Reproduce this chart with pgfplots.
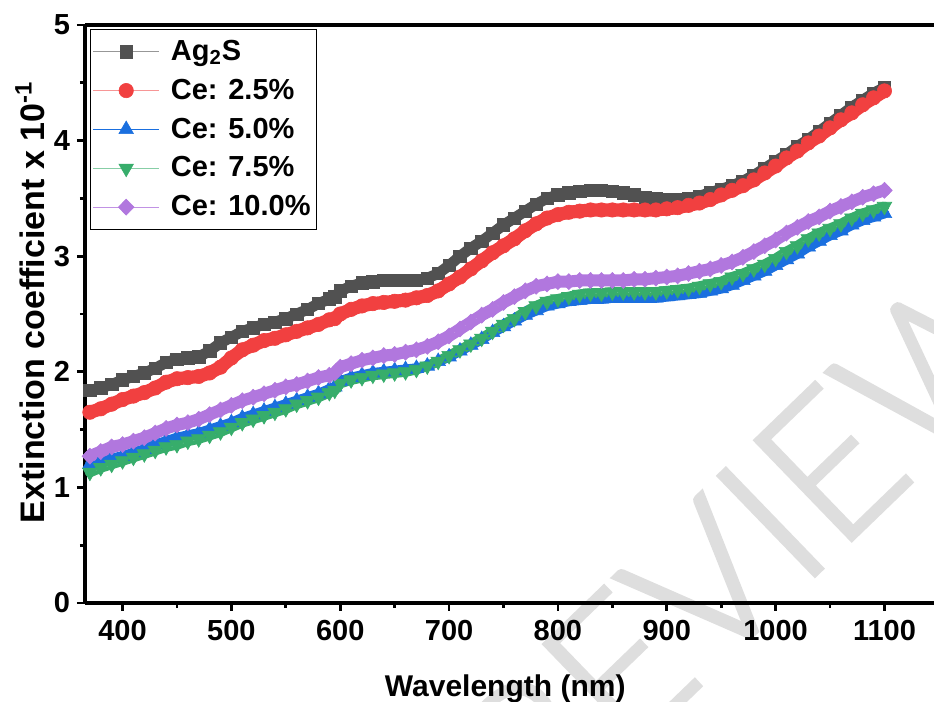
\documentclass[border=0pt]{standalone}
\usepackage{fontspec}
\setmainfont{Liberation Sans}
\IfFontExistsTF{Lato Light}{\newfontfamily\wmfont{Lato Light}[FakeBold=2]}{\newfontfamily\wmfont{Liberation Sans}}
\usepackage{pgfplots}
\usepackage{pgfplotstable}
\pgfplotsset{compat=1.18}

\definecolor{cblack}{HTML}{515151}
\definecolor{cred}{HTML}{F14040}
\definecolor{cblue}{HTML}{1A6FDF}
\definecolor{cgreen}{HTML}{37AD6B}
\definecolor{cpurple}{HTML}{B177DE}

% wavelength (nm) and extinction coefficient (x 10^-1) of each film
\pgfplotstableread{
x     ag    c25   c50   c75   c100
370   1.84  1.65  1.20  1.13  1.27
380   1.86  1.68  1.23  1.17  1.31
390   1.89  1.72  1.25  1.20  1.35
400   1.93  1.76  1.27  1.23  1.37
410   1.96  1.79  1.30  1.26  1.40
420   1.99  1.82  1.33  1.29  1.43
430   2.03  1.86  1.37  1.32  1.47
440   2.08  1.91  1.40  1.35  1.51
450   2.11  1.94  1.43  1.37  1.54
460   2.12  1.95  1.45  1.40  1.56
470   2.13  1.96  1.47  1.42  1.59
480   2.18  1.99  1.50  1.45  1.63
490   2.25  2.04  1.53  1.48  1.67
500   2.30  2.12  1.56  1.52  1.71
510   2.35  2.19  1.60  1.56  1.75
520   2.38  2.23  1.63  1.59  1.78
530   2.41  2.27  1.66  1.62  1.81
540   2.43  2.29  1.69  1.65  1.84
550   2.46  2.32  1.72  1.68  1.87
560   2.50  2.35  1.75  1.72  1.89
570   2.54  2.38  1.78  1.75  1.92
580   2.59  2.41  1.81  1.78  1.95
590   2.63  2.45  1.85  1.82  1.97
595   2.65  2.46  1.87  1.84  1.99
600   2.70  2.50  1.92  1.90  2.04
610   2.74  2.54  1.95  1.93  2.07
620   2.77  2.57  1.97  1.95  2.10
630   2.78  2.59  1.99  1.97  2.12
640   2.79  2.60  2.00  1.98  2.14
650   2.79  2.61  2.01  1.99  2.15
660   2.79  2.62  2.02  2.00  2.17
670   2.79  2.64  2.03  2.02  2.19
680   2.81  2.66  2.05  2.05  2.22
690   2.85  2.70  2.09  2.09  2.26
700   2.92  2.76  2.13  2.14  2.31
710   3.00  2.82  2.18  2.19  2.37
720   3.07  2.89  2.23  2.24  2.43
730   3.13  2.96  2.28  2.29  2.49
740   3.20  3.03  2.34  2.35  2.54
750   3.27  3.09  2.39  2.41  2.60
760   3.33  3.15  2.44  2.46  2.65
770   3.39  3.22  2.49  2.52  2.70
780   3.45  3.28  2.53  2.57  2.74
790   3.50  3.33  2.57  2.61  2.76
800   3.53  3.36  2.59  2.63  2.78
810   3.55  3.38  2.61  2.65  2.78
820   3.56  3.39  2.62  2.67  2.79
830   3.57  3.40  2.63  2.68  2.79
840   3.57  3.40  2.63  2.68  2.79
850   3.56  3.40  2.64  2.69  2.79
860   3.55  3.40  2.64  2.69  2.79
870   3.53  3.40  2.64  2.69  2.80
880   3.51  3.40  2.64  2.69  2.80
890   3.50  3.40  2.64  2.69  2.81
900   3.49  3.41  2.65  2.70  2.82
910   3.49  3.42  2.66  2.71  2.83
920   3.50  3.44  2.67  2.72  2.85
930   3.52  3.46  2.68  2.74  2.87
940   3.55  3.49  2.70  2.76  2.89
950   3.58  3.53  2.72  2.78  2.92
960   3.61  3.57  2.75  2.82  2.95
970   3.65  3.61  2.79  2.85  2.99
980   3.70  3.66  2.83  2.89  3.04
990   3.76  3.72  2.87  2.93  3.09
1000  3.82  3.78  2.92  2.98  3.14
1010  3.88  3.85  2.97  3.04  3.20
1020  3.95  3.91  3.02  3.09  3.25
1030  4.01  3.98  3.08  3.15  3.30
1040  4.08  4.04  3.13  3.20  3.34
1050  4.15  4.11  3.18  3.24  3.39
1060  4.22  4.18  3.22  3.28  3.43
1070  4.29  4.24  3.27  3.33  3.47
1080  4.35  4.31  3.31  3.37  3.51
1090  4.41  4.37  3.34  3.40  3.54
1100  4.46  4.43  3.37  3.43  3.57
}\extdata

% a dense series: a solid band along the curve with its marks on top
\pgfplotsset{
  band/.style={draw=#1, line width=5.6pt, line join=round, line cap=round, forget plot},
}

\begin{document}
\begin{tikzpicture}
% faint watermark behind the plot
\node[rotate=44, text=black!13, font=\wmfont\fontsize{98}{98}\selectfont] at (334pt,32pt) {REVIEW};

\begin{axis}[
  at={(0,0)}, anchor=south west,
  scale only axis, width=424.5pt, height=289pt,
  xmin=365.5, xmax=1145.5, ymin=0, ymax=5,
  axis x line*=box, axis y line*=left,
  xtick={400,500,...,1100}, ytick={0,1,...,5},
  minor x tick num=1, minor y tick num=1,
  xtick pos=bottom, ytick pos=left,
  tick align=outside,
  major tick length=4pt, minor tick length=2.5pt,
  every tick/.style={black, line width=1.4pt},
  axis line style={black, line width=1.6pt},
  /pgf/number format/assume math mode=true,
  /pgf/number format/1000 sep={},
  tick label style={font=\bfseries\fontsize{14.5}{16}\selectfont},
  xticklabel style={yshift=-1pt},
  xlabel={Wavelength (nm)},
  ylabel={Extinction coefficient x 10\textsuperscript{-1}},
  every axis x label/.style={at={(axis description cs:0.495,-0.1626)}, anchor=base,
    font=\bfseries\fontsize{15}{18}\selectfont},
  every axis y label/.style={at={(axis description cs:-0.0648,0.52)}, rotate=90, anchor=center,
    font=\bfseries\fontsize{17}{20}\selectfont},
  legend cell align=left,
  legend image code/.code={\draw[#1, mark repeat=2, mark phase=2] plot coordinates {(0pt,0pt) (16.5pt,0pt) (33pt,0pt)};
    \path (36.5pt,0pt);},
  legend style={at={(axis description cs:0,1)}, anchor=north west, xshift=2.5pt, yshift=-2pt,
    draw=black, line width=0.5pt, font=\bfseries\fontsize{14.5}{16}\selectfont,
    inner xsep=1pt, inner ysep=3.3pt, row sep=3.8pt},
]
\addplot[band=cblack, line width=5.4pt] table[x=x, y=ag] {\extdata};
\addplot[cblack!60, line width=0.7pt, mark=square*, mark size=3.1pt,
  mark options={draw=cblack, fill=cblack, line width=0.3pt}] table[x=x, y=ag] {\extdata};
\addlegendentry{Ag\textsubscript{2}S}
\addplot[band=cred, line width=6.6pt] table[x=x, y=c25] {\extdata};
\addplot[cred!55, line width=0.7pt, mark=*, mark size=3.6pt,
  mark options={draw=cred, fill=cred, line width=0.3pt}] table[x=x, y=c25] {\extdata};
\addlegendentry{Ce: 2.5\%}
\addplot[band=cblue, line width=5pt] table[x=x, y=c50] {\extdata};
\addplot[cblue, line width=0.5pt, mark=triangle*, mark size=4.2pt,
  mark options={draw=cblue, fill=cblue, line width=0.3pt}] table[x=x, y=c50] {\extdata};
\addlegendentry{Ce: 5.0\%}
\addplot[band=cgreen, line width=5pt] table[x=x, y=c75] {\extdata};
\addplot[cgreen!60, line width=0.7pt, mark=triangle*, mark size=4.2pt,
  mark options={draw=cgreen, fill=cgreen, line width=0.3pt, rotate=180}] table[x=x, y=c75] {\extdata};
\addlegendentry{Ce: 7.5\%}
\addplot[band=cpurple, line width=6pt] table[x=x, y=c100] {\extdata};
\addplot[cpurple!80, line width=0.5pt, mark=diamond*, mark size=4pt,
  mark options={draw=cpurple, fill=cpurple, line width=0.3pt, xscale=1.3}] table[x=x, y=c100] {\extdata};
\addlegendentry{Ce: 10.0\%}
\end{axis}

\pgfresetboundingbox
\useasboundingbox (-42.5pt,-49.5pt) rectangle (424.5pt,301.5pt);
\end{tikzpicture}
\end{document}
